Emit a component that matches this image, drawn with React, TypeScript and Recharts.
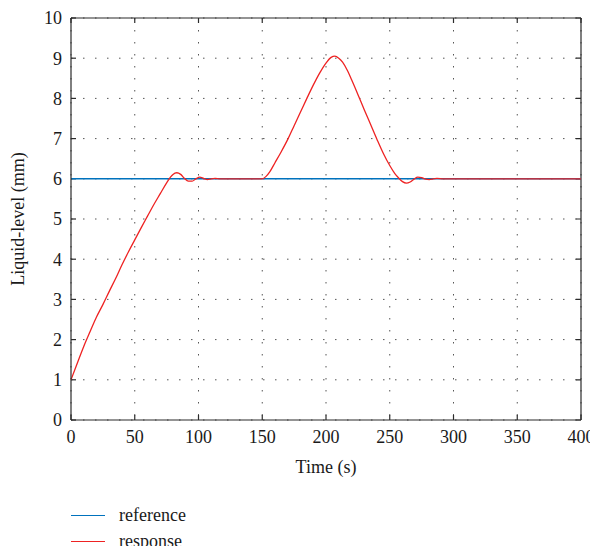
import React from 'react';
import { LineChart, Line, XAxis, YAxis, CartesianGrid, Legend } from 'recharts';

const xTicks = [0, 50, 100, 150, 200, 250, 300, 350, 400];
const yTicks = [0, 1, 2, 3, 4, 5, 6, 7, 8, 9, 10];

const times = [
  0, 5, 10, 15, 20, 25, 30, 35, 40, 45, 50, 55, 60, 65, 70, 75, 78, 80, 83, 86, 89, 92, 95, 98,
  101, 104, 107, 110, 113, 117, 150, 153, 156, 160, 165, 170, 175, 180, 185, 190, 195, 200, 204,
  207, 210, 213, 217, 220, 225, 230, 235, 240, 245, 250, 254, 257, 260, 263, 266, 269, 272, 275,
  278, 281, 284, 287, 292, 400,
];
const responseValues = [
  1.0, 1.42, 1.83, 2.2, 2.56, 2.87, 3.2, 3.52, 3.86, 4.18, 4.48, 4.78, 5.07, 5.36, 5.63, 5.9, 6.04,
  6.11, 6.15, 6.11, 6.01, 5.94, 5.94, 6.0, 6.04, 6.01, 5.98, 6.0, 6.01, 6.0, 6.0, 6.06, 6.18, 6.4,
  6.68, 6.98, 7.32, 7.66, 8.0, 8.33, 8.63, 8.88, 9.02, 9.05, 9.0, 8.9, 8.68, 8.47, 8.1, 7.72, 7.35,
  6.98, 6.63, 6.33, 6.13, 6.02, 5.93, 5.89, 5.92, 5.99, 6.04, 6.03, 5.99, 5.98, 6.0, 6.01, 6.0, 6.0,
];
const referenceTimes = [0, 400];
const referenceValues = [6, 6];

const responseData = times.map((t, i) => ({ t, response: responseValues[i] }));
const referenceData = referenceTimes.map((t, i) => ({ t, reference: referenceValues[i] }));

const FONT = '"Liberation Serif", "Times New Roman", serif';
const AXIS = '#2b2b2b';
const TEXT = '#1a1a1a';
const BLUE = '#0072BD';
const RED = '#ee2222';
const TICK = 5;

// layout
const CHART_W = 598;
const CHART_H = 554;
const MARGIN = { top: 18, right: 17, bottom: 0, left: 0 };
const YAXIS_W = 71;
const XAXIS_H = 74;
const LEGEND_H = 60;
const PLOT_W = CHART_W - MARGIN.left - MARGIN.right - YAXIS_W;
const PLOT_H = CHART_H - MARGIN.top - MARGIN.bottom - XAXIS_H - LEGEND_H;

const BottomTick = (p: any) => (
  <text x={p.x} y={p.y + 23} textAnchor="middle" fontFamily={FONT} fontSize={18} fill={TEXT}>
    {p.payload.value}
  </text>
);
const LeftTick = (p: any) => (
  <text x={p.x - 9} y={p.y} dy="0.35em" textAnchor="end" fontFamily={FONT} fontSize={18} fill={TEXT}>
    {p.payload.value}
  </text>
);

const LegendContent = () => (
  <div style={{ height: LEGEND_H, paddingTop: 8, boxSizing: 'border-box', fontFamily: FONT, fontSize: 18, color: TEXT, lineHeight: '20px' }}>
    {[
      { name: 'reference', color: BLUE },
      { name: 'response', color: RED },
    ].map((it) => (
      <div key={it.name} style={{ display: 'flex', alignItems: 'center', height: 26 }}>
        <div style={{ width: 34, height: 0, borderTop: `1.5px solid ${it.color}`, marginRight: 14 }} />
        <span>{it.name}</span>
      </div>
    ))}
  </div>
);

export default function App() {
  return (
    <div style={{ margin: '-8px 0 -8px -8px', width: CHART_W, height: CHART_H }}>
      <LineChart width={CHART_W} height={CHART_H} margin={MARGIN}>
        {/* dotted grid */}
        <CartesianGrid strokeDasharray="1.5 10.5" stroke="#555" />
        {/* inward tick marks: top (vertical lines, dash from top) */}
        <CartesianGrid horizontal={false} stroke={AXIS} strokeWidth={1.2} strokeDasharray={`${TICK} 3000`} />
        {/* inward tick marks: bottom */}
        <CartesianGrid horizontal={false} stroke={AXIS} strokeWidth={1.2} strokeDasharray={`0 ${PLOT_H - TICK} ${TICK} 3000`} />
        {/* inward tick marks: left */}
        <CartesianGrid vertical={false} stroke={AXIS} strokeWidth={1.2} strokeDasharray={`${TICK} 3000`} />
        {/* inward tick marks: right */}
        <CartesianGrid vertical={false} stroke={AXIS} strokeWidth={1.2} strokeDasharray={`0 ${PLOT_W - TICK} ${TICK} 3000`} />
        {/* top and right frame lines */}
        <CartesianGrid
          stroke={AXIS}
          strokeWidth={1.2}
          horizontalPoints={[MARGIN.top]}
          verticalPoints={[MARGIN.left + YAXIS_W + PLOT_W]}
        />
        <XAxis
          dataKey="t"
          type="number"
          domain={[0, 400]}
          ticks={xTicks}
          height={XAXIS_H}
          tickSize={0}
          tickMargin={0}
          tickLine={false}
          axisLine={{ stroke: AXIS, strokeWidth: 1.2 }}
          tick={(p: any) => <BottomTick {...p} />}
          allowDataOverflow
          label={{
            content: (lp: any) => {
              const vb = lp.viewBox;
              return (
                <text x={vb.x + vb.width / 2} y={vb.y + 47} dy="0.35em" textAnchor="middle" fontFamily={FONT} fontSize={18} fill={TEXT}>
                  Time (s)
                </text>
              );
            },
          }}
        />
        <YAxis
          type="number"
          domain={[0, 10]}
          ticks={yTicks}
          width={YAXIS_W}
          tickSize={0}
          tickMargin={0}
          tickLine={false}
          axisLine={{ stroke: AXIS, strokeWidth: 1.2 }}
          tick={(p: any) => <LeftTick {...p} />}
          allowDataOverflow
          label={{
            content: (lp: any) => {
              const vb = lp.viewBox;
              const cx = vb.x + 18;
              const cy = vb.y + vb.height / 2;
              return (
                <text x={cx} y={cy} dy="0.35em" transform={`rotate(-90, ${cx}, ${cy})`} textAnchor="middle" fontFamily={FONT} fontSize={18} fill={TEXT}>
                  Liquid-level (mm)
                </text>
              );
            },
          }}
        />
        <Line
          data={referenceData}
          dataKey="reference"
          type="linear"
          stroke={BLUE}
          strokeWidth={1.5}
          dot={false}
          isAnimationActive={false}
        />
        <Line
          data={responseData}
          dataKey="response"
          type="monotone"
          stroke={RED}
          strokeWidth={1.3}
          dot={false}
          isAnimationActive={false}
        />
        <Legend
          verticalAlign="bottom"
          align="left"
          layout="horizontal"
          wrapperStyle={{ left: 71, width: 300 }}
          content={() => <LegendContent />}
        />
      </LineChart>
    </div>
  );
}
